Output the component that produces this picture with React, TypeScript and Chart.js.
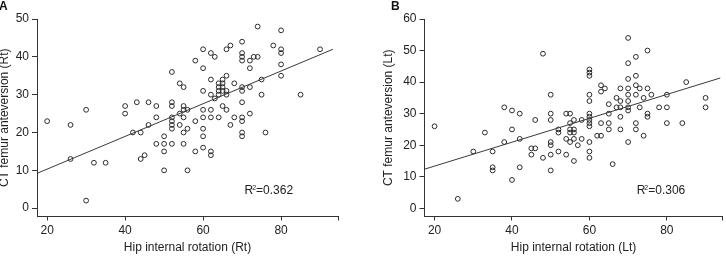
import React, { useEffect, useRef } from 'react';
import { Chart, registerables } from 'chart.js';
Chart.register(...registerables);

// ---- Panel A (Rt) ----
const rtHipIR = [
  20, 26, 26, 30, 30, 32, 35,
  40, 40, 42, 43, 44, 44, 45, 46, 46, 48, 48, 48,
  50, 50, 50, 50,
  52, 52, 52, 52, 52, 52, 52, 52,
  54, 54, 54,
  55, 55, 55, 55, 55, 55,
  56, 56, 56,
  58, 58, 58,
  60, 60, 60, 60, 60, 60, 60, 60,
  62, 62, 62, 62, 62, 62, 62,
  63, 63,
  64, 64, 64, 64, 64,
  65, 65, 65, 65, 65,
  66, 66, 66, 66, 66,
  67, 67,
  68, 68,
  70, 70, 70, 70, 70, 70, 70, 70, 70, 70, 70,
  72, 72, 72, 72,
  73, 74, 74,
  75, 75,
  76, 78,
  80, 80, 80, 80, 80,
  85, 90,
];
const rtCTAV = [
  23, 22, 13, 26, 2, 12, 12,
  27, 25, 20, 28, 20, 13, 14, 28, 22, 27, 24, 17,
  19, 17, 15, 10,
  36, 28, 27, 24, 23, 22, 21, 17,
  33, 25, 22,
  32, 27, 26, 24, 20, 17,
  26, 21, 10,
  39, 23, 15,
  42, 37, 31, 26, 24, 21, 19, 16,
  41, 34, 30, 26, 24, 15, 14,
  40, 29,
  33, 32, 31, 30, 24,
  34, 33, 32, 31, 27,
  42, 35, 31, 30, 26,
  43, 22,
  33, 24,
  44, 41, 40, 39, 32, 31, 28, 24, 23, 20, 19,
  39, 37, 32, 25,
  40, 40, 48,
  34, 30,
  20, 43,
  47, 42, 41, 38, 35,
  30, 42,
];
const rtFitX = [17.4, 93.3];
const rtFitY = [9.2, 42.0];
const rtR2 = '0.362';

// ---- Panel B (Lt) ----
const ltHipIR = [
  20, 26, 30, 33, 35, 35, 35,
  38, 38, 40, 40, 40, 42, 42, 42,
  45, 45, 46, 46, 48, 48,
  50, 50, 50, 50, 50, 50, 50,
  52, 52, 52,
  54, 54, 54,
  55, 55, 55, 55, 55,
  56, 56, 56, 56, 56,
  57, 58, 58,
  60, 60, 60, 60, 60, 60, 60, 60, 60, 60, 60, 60, 60,
  62, 63, 63, 63, 63, 64,
  65, 65, 65, 65, 66,
  67, 67,
  68, 68, 68, 68, 68,
  70, 70, 70, 70, 70, 70, 70, 70, 70,
  72, 72, 72, 72, 72, 72,
  73, 73, 74, 74,
  75, 75, 75, 75,
  76, 78, 80, 80, 80, 84, 85, 90, 90,
];
const ltCTAV = [
  26, 3, 18, 24, 18, 13, 12,
  32, 21, 31, 25, 9, 30, 22, 13,
  19, 17, 28, 19, 49, 16,
  36, 30, 28, 21, 20, 17, 12,
  25, 24, 18,
  30, 22, 17,
  30, 27, 25, 24, 21,
  28, 25, 24, 22, 15,
  20, 28, 22,
  44, 43, 42, 36, 34, 30, 29, 28, 27, 26, 21, 18, 16,
  23, 39, 37, 27, 23, 38,
  33, 30, 27, 25, 14,
  35, 32,
  38, 34, 32, 29, 25,
  54, 46, 41, 38, 36, 34, 32, 31, 21,
  48, 42, 39, 36, 27, 25,
  38, 32, 35, 23,
  50, 38, 30, 29,
  36, 32, 36, 32, 27, 27, 40, 35, 32,
];
const ltFitX = [17.4, 93.8];
const ltFitY = [12.4, 41.3];
const ltR2 = '0.306';

const xTickValues = [20, 40, 60, 80];
const yTicksRt = [0, 10, 20, 30, 40, 50];
const yTicksLt = [0, 10, 20, 30, 40, 50, 60];

const FONT = '"Liberation Sans", Arial, Helvetica, sans-serif';
const INK = '#222';
const AXIS = '#333';

type Panel = {
  letter: string;
  xs: number[];
  ys: number[];
  fitX: number[];
  fitY: number[];
  r2: string;
  xMin: number;
  xMax: number;
  yMin: number;
  yMax: number;
  yTicks: number[];
  xTitle: string;
  yTitle: string;
  yWidth: number;
  padRight: number;
  yTitlePad: number;
  letterX: number;
  r2X: number;
};

const panels: Panel[] = [
  {
    letter: 'A', xs: rtHipIR, ys: rtCTAV, fitX: rtFitX, fitY: rtFitY, r2: rtR2,
    xMin: 17.4, xMax: 94.6, yMin: -2.2, yMax: 50, yTicks: yTicksRt,
    xTitle: 'Hip internal rotation (Rt)', yTitle: 'CT femur anteversion (Rt)',
    yWidth: 37, padRight: 25, yTitlePad: 0, letterX: -1, r2X: 244.5,
  },
  {
    letter: 'B', xs: ltHipIR, ys: ltCTAV, fitX: ltFitX, fitY: ltFitY, r2: ltR2,
    xMin: 17.4, xMax: 94.4, yMin: -2.6, yMax: 60, yTicks: yTicksLt,
    xTitle: 'Hip internal rotation (Lt)', yTitle: 'CT femur anteversion (Lt)',
    yWidth: 61.5, padRight: 1, yTitlePad: 20.7, letterX: 28, r2X: 273.7,
  },
];

function makeConfig(p: Panel): any {
  const annot = {
    id: 'annot' + p.letter,
    afterDraw(chart: any) {
      const ctx = chart.ctx;
      ctx.save();
      ctx.fillStyle = '#111';
      ctx.textBaseline = 'alphabetic';
      ctx.textAlign = 'left';
      ctx.font = `bold 12px ${FONT}`;
      ctx.fillText(p.letter, p.letterX, 9.5);
      ctx.fillStyle = INK;
      ctx.font = `12px ${FONT}`;
      let x = p.r2X;
      ctx.fillText('R', x, 194);
      x += ctx.measureText('R').width - 1;
      ctx.font = `7px ${FONT}`;
      ctx.fillText('2', x, 189.5);
      x += ctx.measureText('2').width;
      ctx.font = `12px ${FONT}`;
      ctx.fillText('=' + p.r2, x, 194);
      ctx.restore();
    },
  };
  return {
    type: 'scatter',
    data: {
      datasets: [
        {
          type: 'line',
          data: p.fitX.map((x, i) => ({ x, y: p.fitY[i] })),
          borderColor: '#3a3a3a',
          borderWidth: 1,
          pointRadius: 0,
          fill: false,
          tension: 0,
        },
        {
          type: 'scatter',
          data: p.xs.map((x, i) => ({ x, y: p.ys[i] })),
          borderColor: '#2a2a2a',
          backgroundColor: 'rgba(0,0,0,0)',
          pointRadius: 2.4,
          pointBorderWidth: 1,
          pointHoverRadius: 2.4,
        },
      ],
    },
    options: {
      animation: false,
      responsive: false,
      events: [],
      layout: { padding: { left: 0, right: p.padRight, top: 19, bottom: 0 } },
      plugins: { legend: { display: false }, tooltip: { enabled: false } },
      scales: {
        x: {
          type: 'linear',
          min: p.xMin,
          max: p.xMax,
          afterFit: (s: any) => { s.height = 39.5; },
          afterBuildTicks: (s: any) => { s.ticks = [...xTickValues, p.xMax].map((v) => ({ value: v })); },
          ticks: {
            autoSkip: false, maxRotation: 0, minRotation: 0, padding: 3, color: INK,
            font: { family: FONT, size: 12 },
            callback: (v: any) => (xTickValues.includes(v) ? String(v) : ''),
          },
          grid: { drawOnChartArea: false, drawTicks: true, tickLength: 4, color: AXIS, lineWidth: 1 },
          border: { display: true, color: AXIS, width: 1 },
          title: {
            display: true, text: p.xTitle, color: INK,
            font: { family: FONT, size: 12, lineHeight: 1.2 },
            padding: { top: 0, bottom: 1.3 },
          },
        },
        y: {
          type: 'linear',
          min: p.yMin,
          max: p.yMax,
          afterFit: (s: any) => { s.width = p.yWidth; },
          afterBuildTicks: (s: any) => { s.ticks = p.yTicks.map((v) => ({ value: v })); },
          ticks: {
            autoSkip: false, padding: 3, color: INK,
            font: { family: FONT, size: 12 },
            callback: (v: any) => String(v),
          },
          grid: { drawOnChartArea: false, drawTicks: true, tickLength: 5, color: AXIS, lineWidth: 1 },
          border: { display: true, color: AXIS, width: 1 },
          title: {
            display: true, text: p.yTitle, color: INK,
            font: { family: FONT, size: 12, lineHeight: 0.8 },
            padding: { top: p.yTitlePad, bottom: 0 },
          },
        },
      },
    },
    plugins: [annot],
  };
}

function PanelChart({ p, left }: { p: Panel; left: number }) {
  const ref = useRef<HTMLCanvasElement | null>(null);
  useEffect(() => {
    if (!ref.current) return;
    const chart = new Chart(ref.current, makeConfig(p));
    return () => chart.destroy();
  }, [p]);
  return (
    <canvas
      ref={ref}
      width={363}
      height={256}
      style={{ position: 'absolute', left, top: 0, width: 363, height: 256 }}
    />
  );
}

export default function App() {
  return (
    <div style={{ position: 'fixed', left: 0, top: 0, width: 726, height: 256, background: '#fff', overflow: 'hidden' }}>
      <PanelChart p={panels[0]} left={0} />
      <PanelChart p={panels[1]} left={363} />
    </div>
  );
}
